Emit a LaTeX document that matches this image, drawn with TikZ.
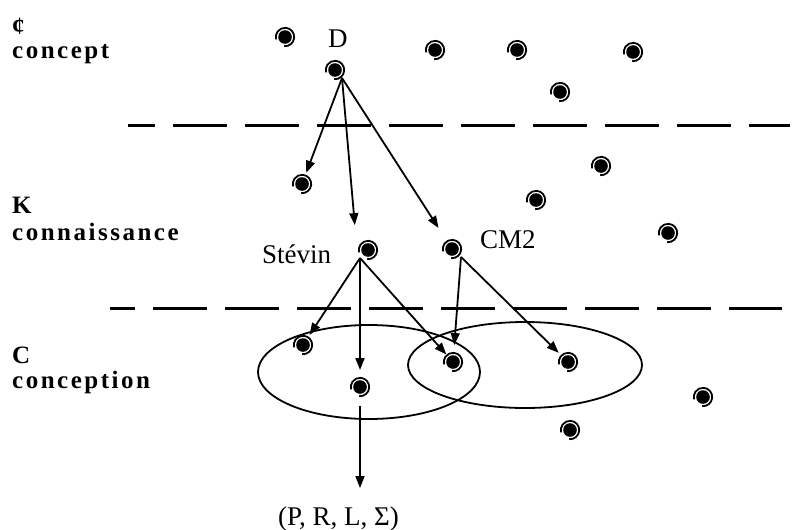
\documentclass[tikz,border=0pt]{standalone}
\usepackage{fontspec}
\setmainfont{Liberation Serif}
\newfontfamily\lblfont[LetterSpace=10]{Liberation Serif}
\usetikzlibrary{arrows.meta,calc}
\begin{document}
\begin{tikzpicture}[x=1pt,y=1pt,
  dotnode/.style={circle,inner sep=0pt,outer sep=0pt,minimum size=22pt,
    path picture={
      \fill (path picture bounding box.center) circle[radius=6.8];
      \draw[line width=1.8pt] ($(path picture bounding box.center)+(-95:9.2)$)
        arc[start angle=-95,end angle=195,radius=9.2];
    }},
  lyrlabel/.style={anchor=base west,inner sep=0pt,font=\lblfont\bfseries\fontsize{25}{30}\selectfont},
  nmlabel/.style={anchor=base west,inner sep=0pt,font=\fontsize{27}{32}\selectfont},
  arr/.style={line width=1.8pt,-{Triangle[length=12pt,width=9pt]}},
  dashline/.style={line width=3pt,dash pattern=on 54pt off 18pt},
  oval/.style={line width=1.8pt}
]
\useasboundingbox (0,0) rectangle (795,-530);

% layer labels
\node[lyrlabel] (lc1) at (12,-34) {¢};
\node[lyrlabel] (lc2) at (12,-58) {concept};
\node[lyrlabel] (lk1) at (12,-213) {K};
\node[lyrlabel] (lk2) at (12,-240) {connaissance};
\node[lyrlabel] (lC1) at (12,-363) {C};
\node[lyrlabel] (lC2) at (12,-388) {conception};

% dashed separators
\draw[dashline,dash phase=27pt] (128,-125) -- (790,-125);
\draw[dashline,dash phase=29pt] (110,-308) -- (782,-308);

% ellipses
\draw[oval] (369,-372) ellipse[x radius=111,y radius=47];
\draw[oval] (525,-365) ellipse[x radius=117,y radius=43];

% dots: concept
\node[dotnode] (c1) at (285,-37) {};
\node[dotnode] (D) at (335,-70) {};
\node[dotnode] (c3) at (435,-50) {};
\node[dotnode] (c4) at (517,-50) {};
\node[dotnode] (c5) at (633,-52) {};
\node[dotnode] (c6) at (560,-92) {};
% dots: connaissance
\node[dotnode] (k1) at (601,-166) {};
\node[dotnode] (k2) at (302,-184) {};
\node[dotnode] (k3) at (536,-200) {};
\node[dotnode] (k4) at (668,-233) {};
\node[dotnode] (S) at (368,-250) {};
\node[dotnode] (CM) at (452,-249) {};
% dots: conception
\node[dotnode] (p1) at (303,-345) {};
\node[dotnode] (p2) at (453,-362) {};
\node[dotnode] (p3) at (568,-362) {};
\node[dotnode] (p4) at (360,-387) {};
\node[dotnode] (p5) at (703,-397) {};
\node[dotnode] (p6) at (570,-430) {};

% names
\node[nmlabel] (lD) at (328,-47) {D};
\node[nmlabel] (lS) at (262,-263) {Stévin};
\node[nmlabel] (lCM) at (480,-248) {CM2};
\node[nmlabel] (lP) at (278,-525) {(P, R, L, Σ)};

% start points
\coordinate (Ds) at ($(D.center)+(7,-8)$);
\coordinate (Ss) at ($(S.center)+(-8,-8)$);
\coordinate (Cs) at ($(CM.center)+(9,-8)$);

% arrows from D
\draw[arr,shorten >=12pt] (Ds) -- (k2.center);
\draw[arr,shorten >=25pt] (Ds) -- (S.west);
\draw[arr,shorten >=25pt] (Ds) -- (CM.center);
% arrows from Stevin
\draw[arr,shorten >=12pt] (Ss) -- (p1.center);
\draw[arr,shorten >=17pt] (Ss) -- (Ss |- p4.center);
\draw[arr,shorten >=10pt] (Ss) -- (p2.center);
% arrows from CM2
\draw[arr,shorten >=17pt] (Cs) -- (p2.center);
\draw[arr,shorten >=13pt] (Cs) -- (p3.center);
% arrow to the tuple
\draw[arr,shorten <=8pt,shorten >=18pt] (p4.south) -- (p4.south |- lP.north);
\end{tikzpicture}
\end{document}
